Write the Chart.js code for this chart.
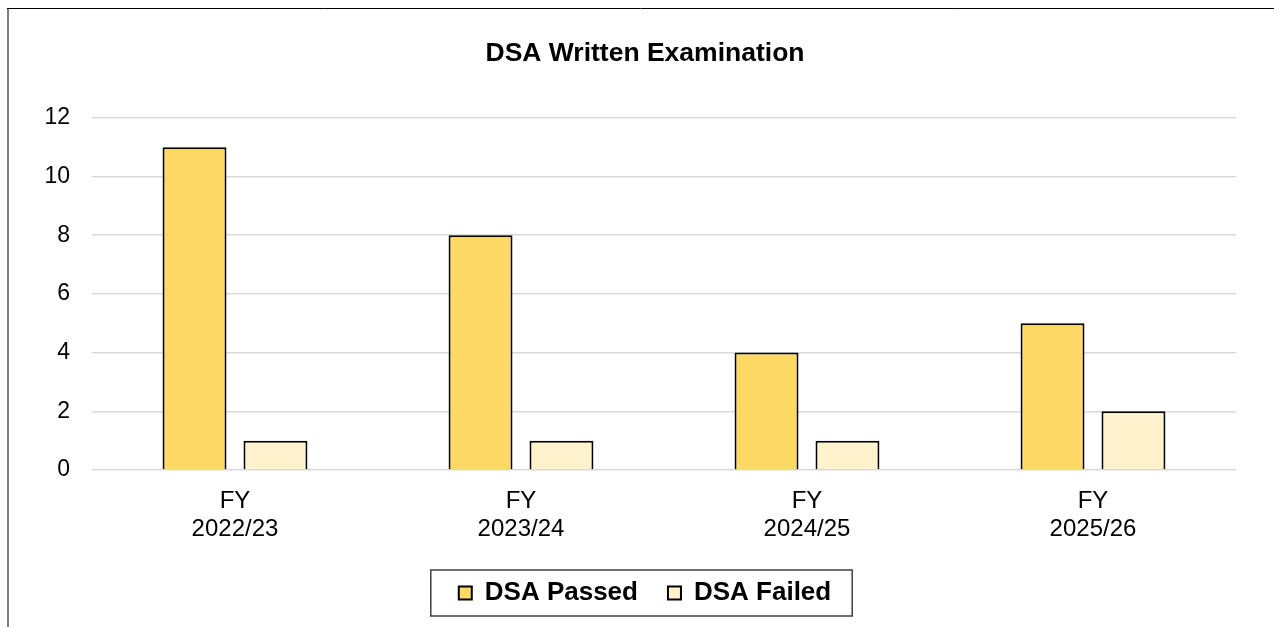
<!DOCTYPE html>
<html>
<head>
<meta charset="utf-8">
<title>DSA Written Examination</title>
<script src="https://cdn.jsdelivr.net/npm/chart.js@4.4.1/dist/chart.umd.min.js"></script>
<style>
  html, body { margin: 0; padding: 0; background: #fff; }
  #wrap { width: 1274px; height: 627px; position: relative; }
</style>
</head>
<body>
<div id="wrap"><canvas id="chart"></canvas></div>
<script>
const categories = [['FY', '2022/23'], ['FY', '2023/24'], ['FY', '2024/25'], ['FY', '2025/26']];
const passed = [11, 8, 4, 5];
const failed = [1, 1, 1, 2];
const yTicks = [0, 2, 4, 6, 8, 10, 12];

const FONT = "'Liberation Sans', Arial, sans-serif";

// title and legend sit a bit right of the canvas centre in the original
const shiftPlugin = {
  id: 'shift',
  afterLayout(chart) {
    const dx = 17;
    [chart.titleBlock, chart.legend].forEach(b => {
      if (!b) return;
      b.left += dx;
      b.right += dx;
    });
  }
};

// outer frame (top and left edge) + box round the legend
const framePlugin = {
  id: 'frame',
  afterDraw(chart) {
    const ctx = chart.ctx;
    ctx.save();
    ctx.strokeStyle = '#808080';
    ctx.lineWidth = 2;
    ctx.beginPath();
    ctx.moveTo(8, 8);
    ctx.lineTo(8, 627);
    ctx.stroke();
    ctx.strokeStyle = '#000';
    ctx.lineWidth = 1;
    ctx.beginPath();
    ctx.moveTo(7, 8.5);
    ctx.lineTo(1274, 8.5);
    ctx.stroke();

    const hb = chart.legend.legendHitBoxes;
    if (hb && hb.length) {
      const first = hb[0], last = hb[hb.length - 1];
      const left = first.left - 28;
      const right = last.left + last.width + 21;
      const mid = first.top + first.height / 2;
      ctx.strokeStyle = '#404040';
      ctx.lineWidth = 1.5;
      ctx.strokeRect(left, mid - 23, right - left, 46);
    }
    ctx.restore();
  }
};

new Chart(document.getElementById('chart'), {
  type: 'bar',
  data: {
    labels: categories,
    datasets: [
      {
        label: 'DSA Passed',
        data: passed,
        backgroundColor: '#FFD966',
        borderColor: '#000',
        borderWidth: 2
      },
      {
        label: 'DSA Failed',
        data: failed,
        backgroundColor: '#FFF2CC',
        borderColor: '#000',
        borderWidth: 2
      }
    ]
  },
  options: {
    responsive: true,
    maintainAspectRatio: false,
    animation: false,
    categoryPercentage: 0.566,
    barPercentage: 0.79,
    layout: { padding: { left: 20, right: 38, top: 0, bottom: 11 } },
    plugins: {
      title: {
        display: true,
        text: 'DSA Written Examination',
        color: '#000',
        font: { family: FONT, size: 26.5, weight: 'bold' },
        padding: { top: 38, bottom: 48 }
      },
      legend: {
        position: 'bottom',
        labels: {
          color: '#000',
          font: { family: FONT, size: 26, weight: 'bold' },
          boxWidth: 13,
          boxHeight: 13,
          padding: 30,
          useBorderRadius: false
        }
      },
      tooltip: { enabled: false }
    },
    scales: {
      x: {
        grid: { display: false },
        border: { display: false },
        ticks: {
          color: '#000',
          font: { family: FONT, size: 24, lineHeight: 1.15 },
          padding: 10,
          maxRotation: 0
        },
        afterFit(scale) { scale.height = 80; }
      },
      y: {
        min: 0,
        max: 12,
        afterBuildTicks(scale) { scale.ticks = yTicks.map(v => ({ value: v })); },
        grid: { color: '#D9D9D9', lineWidth: 1.5, drawTicks: false },
        border: { display: false },
        ticks: {
          color: '#000',
          font: { family: FONT, size: 23 },
          padding: 22
        },
        afterFit(scale) { scale.width = 72; }
      }
    }
  },
  plugins: [shiftPlugin, framePlugin]
});
</script>
</body>
</html>
